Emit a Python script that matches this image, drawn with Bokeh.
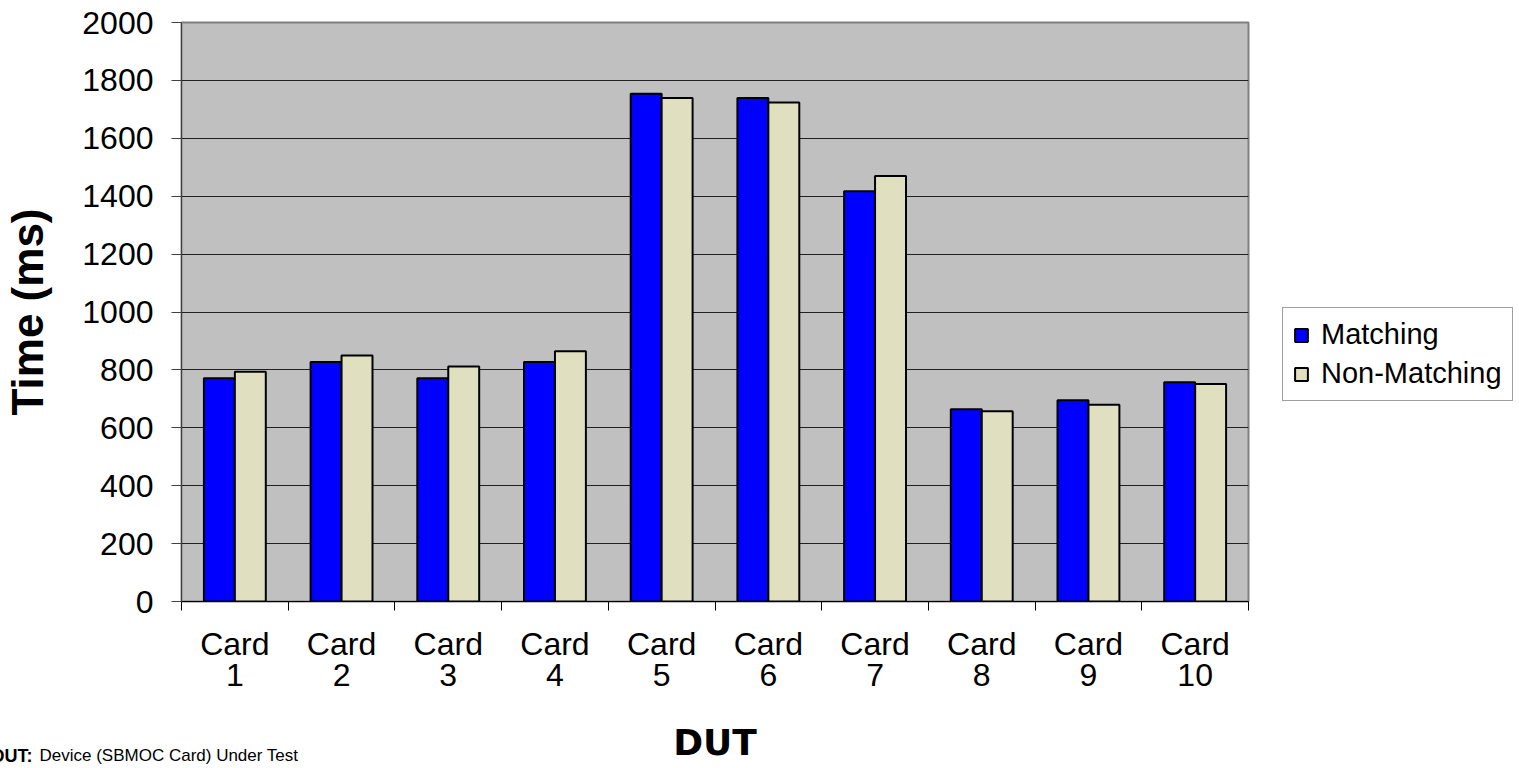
import numpy as np
from bokeh.plotting import figure
from bokeh.models import (FixedTicker, Legend, LegendItem, Range1d, ColumnDataSource, Title)
from bokeh.embed import file_html
from bokeh.resources import INLINE

categories = ["Card\n1", "Card\n2", "Card\n3", "Card\n4", "Card\n5",
              "Card\n6", "Card\n7", "Card\n8", "Card\n9", "Card\n10"]
matching = [771, 827, 771, 827, 1754, 1739, 1417, 664, 695, 757]
non_matching = [794, 850, 812, 864, 1739, 1724, 1470, 657, 680, 751]
y_ticks = [0, 200, 400, 600, 800, 1000, 1200, 1400, 1600, 1800, 2000]

FONT = "Liberation Sans"

p = figure(frame_width=1067, frame_height=579, output_backend="svg", toolbar_location=None,
           x_range=Range1d(0, len(categories)), y_range=Range1d(0, 2000))
p.min_border_left = 180
p.min_border_right = 272
p.min_border_top = 22
p.min_border_bottom = 167
p.background_fill_color = "#C0C0C0"
p.border_fill_color = "white"
p.outline_line_color = "#808080"
p.outline_line_width = 2

idx = np.arange(len(categories))
bw = 0.29
src = ColumnDataSource(dict(xm=idx + 0.5 - bw / 2, xn=idx + 0.5 + bw / 2,
                            m=matching, n=non_matching))
rm = p.vbar(x="xm", top="m", width=bw, source=src, fill_color="#0000FF",
            line_color="black", line_width=2)
rn = p.vbar(x="xn", top="n", width=bw, source=src, fill_color="#E0E0C0",
            line_color="black", line_width=2)

# grid
p.xgrid.grid_line_color = None
p.ygrid.ticker = FixedTicker(ticks=y_ticks)
p.ygrid.grid_line_color = "#202020"
p.ygrid.grid_line_width = 1

# y axis
ya = p.yaxis[0]
ya.ticker = FixedTicker(ticks=y_ticks, minor_ticks=[])
ya.major_label_text_font = FONT
ya.major_label_text_font_size = "32px"
ya.major_label_text_color = "black"
ya.major_tick_in = 0
ya.major_tick_out = 10
ya.major_tick_line_color = "#404040"
ya.axis_line_color = "#404040"
ya.major_label_standoff = 18
ya.axis_label = "Time (ms)"
ya.axis_label_text_font = FONT
ya.axis_label_text_font_style = "bold"
ya.axis_label_text_font_size = "44px"
ya.axis_label_text_color = "black"
ya.axis_label_standoff = 27

# x axis
xa = p.xaxis[0]
centers = [i + 0.5 for i in range(len(categories))]
xa.ticker = FixedTicker(ticks=centers, minor_ticks=list(range(len(categories) + 1)))
xa.major_label_overrides = {c: lab for c, lab in zip(centers, categories)}
xa.major_tick_line_color = None
xa.major_tick_in = 0
xa.major_tick_out = 9
xa.minor_tick_in = 0
xa.minor_tick_out = 9
xa.minor_tick_line_color = "black"
xa.axis_line_color = "black"
xa.major_label_text_font = FONT
xa.major_label_text_font_size = "32px"
xa.major_label_text_color = "black"
xa.major_label_text_line_height = 0.865
xa.major_label_standoff = 15
xa.axis_label = "DUT"
xa.axis_label_text_font = "DejaVu Sans"
xa.axis_label_text_font_style = "bold"
xa.axis_label_text_font_size = "36px"
xa.axis_label_text_color = "black"
xa.axis_label_standoff = 26

legend = Legend(items=[LegendItem(label="Matching", renderers=[rm]),
                       LegendItem(label="Non-Matching", renderers=[rn])],
                location=(34, 200), orientation="vertical")
legend.label_text_font = FONT
legend.label_text_font_size = "29px"
legend.label_text_color = "black"
legend.glyph_width = 16
legend.glyph_height = 16
legend.label_height = 32
legend.label_standoff = 12
legend.spacing = 6
legend.padding = 10
legend.margin = 0
legend.border_line_color = "#404040"
legend.border_line_width = 1
legend.background_fill_color = "white"
legend.background_fill_alpha = 1
p.add_layout(legend, "right")

# footnote (two texts on one row)
fn1 = Title(text="DUT:", align="left", offset=-190, standoff=-40, vertical_align="top",
            text_font=FONT, text_font_style="bold", text_font_size="18px",
            text_color="black", text_baseline="top")
fn2 = Title(text="Device (SBMOC Card) Under Test", align="left", offset=-142, standoff=-40,
            vertical_align="top", text_font=FONT, text_font_style="normal",
            text_font_size="17px", text_color="black", text_baseline="top")
p.add_layout(fn1, "below")
p.add_layout(fn2, "below")

open("out.html", "w").write(file_html(p, INLINE))
